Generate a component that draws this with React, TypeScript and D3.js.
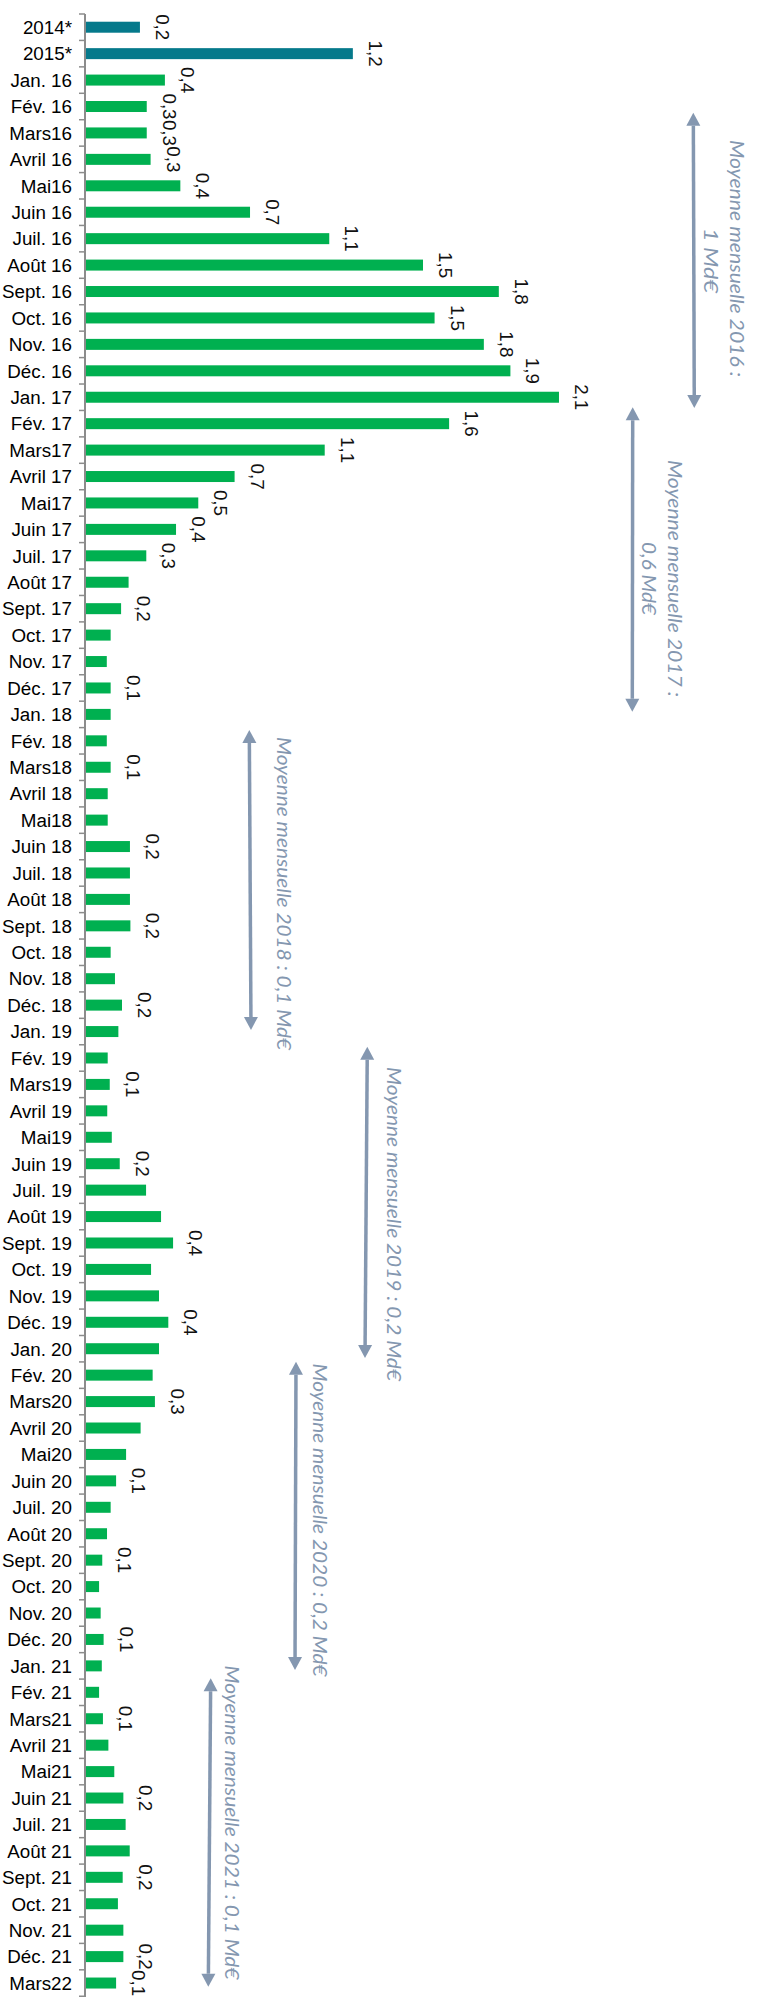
import React from "react";
import * as d3 from "d3";

const categories = [
  "2014*", "2015*",
  "Jan. 16", "Fév. 16", "Mars16", "Avril 16", "Mai16", "Juin 16", "Juil. 16", "Août 16", "Sept. 16", "Oct. 16", "Nov. 16", "Déc. 16",
  "Jan. 17", "Fév. 17", "Mars17", "Avril 17", "Mai17", "Juin 17", "Juil. 17", "Août 17", "Sept. 17", "Oct. 17", "Nov. 17", "Déc. 17",
  "Jan. 18", "Fév. 18", "Mars18", "Avril 18", "Mai18", "Juin 18", "Juil. 18", "Août 18", "Sept. 18", "Oct. 18", "Nov. 18", "Déc. 18",
  "Jan. 19", "Fév. 19", "Mars19", "Avril 19", "Mai19", "Juin 19", "Juil. 19", "Août 19", "Sept. 19", "Oct. 19", "Nov. 19", "Déc. 19",
  "Jan. 20", "Fév. 20", "Mars20", "Avril 20", "Mai20", "Juin 20", "Juil. 20", "Août 20", "Sept. 20", "Oct. 20", "Nov. 20", "Déc. 20",
  "Jan. 21", "Fév. 21", "Mars21", "Avril 21", "Mai21", "Juin 21", "Juil. 21", "Août 21", "Sept. 21", "Oct. 21", "Nov. 21", "Déc. 21",
  "Mars22",
];

const values = [
  0.242, 1.18,
  0.352, 0.272, 0.272, 0.289, 0.42, 0.727, 1.076, 1.489, 1.823, 1.54, 1.757, 1.874,
  2.088, 1.604, 1.056, 0.659, 0.499, 0.401, 0.27, 0.192, 0.159, 0.113, 0.096, 0.113,
  0.113, 0.096, 0.113, 0.1, 0.1, 0.198, 0.198, 0.198, 0.2, 0.113, 0.132, 0.163,
  0.147, 0.1, 0.109, 0.098, 0.118, 0.153, 0.269, 0.335, 0.388, 0.291, 0.326, 0.367,
  0.326, 0.298, 0.308, 0.245, 0.181, 0.137, 0.113, 0.097, 0.076, 0.062, 0.069, 0.082,
  0.074, 0.062, 0.079, 0.103, 0.129, 0.169, 0.179, 0.197, 0.166, 0.145, 0.169, 0.169,
  0.137,
];

const annualCategories = ["2014*", "2015*"];

const labeledCategories = [
  "2014*", "2015*",
  "Jan. 16", "Fév. 16", "Mars16", "Avril 16", "Mai16", "Juin 16", "Juil. 16", "Août 16", "Sept. 16", "Oct. 16", "Nov. 16", "Déc. 16",
  "Jan. 17", "Fév. 17", "Mars17", "Avril 17", "Mai17", "Juin 17", "Juil. 17", "Sept. 17", "Déc. 17",
  "Mars18", "Juin 18", "Sept. 18", "Déc. 18",
  "Mars19", "Juin 19", "Sept. 19", "Déc. 19",
  "Mars20", "Juin 20", "Sept. 20", "Déc. 20",
  "Mars21", "Juin 21", "Sept. 21", "Déc. 21",
  "Mars22",
];

const annotationLines = [
  ["Moyenne mensuelle 2016 :", "1 Md€"],
  ["Moyenne mensuelle 2017 :", "0,6 Md€"],
  ["Moyenne mensuelle 2018 : 0,1 Md€"],
  ["Moyenne mensuelle 2019 : 0,2 Md€"],
  ["Moyenne mensuelle 2020 : 0,2 Md€"],
  ["Moyenne mensuelle 2021 : 0,1 Md€"],
];

// layout of the annotation arrows/texts (pixels)
const annotationLayout = [
  { xTop: 693.3, xBot: 694.3, yTop: 112.7, yBot: 408, textX: [730, 703.5], textY: [140, 228], textLen: [237, 65] },
  { xTop: 632.7, xBot: 632.3, yTop: 407.3, yBot: 711.7, textX: [668.3, 642], textY: [460, 542], textLen: [237, 73] },
  { xTop: 249.3, xBot: 251, yTop: 730, yBot: 1030, textX: [276.7], textY: [737], textLen: [313] },
  { xTop: 367.3, xBot: 365, yTop: 1046.7, yBot: 1358, textX: [386.7], textY: [1067], textLen: [314] },
  { xTop: 296, xBot: 295, yTop: 1361.7, yBot: 1670, textX: [313.3], textY: [1363.5], textLen: [313] },
  { xTop: 210.7, xBot: 208.3, yTop: 1678.3, yBot: 1986.7, textX: [225], textY: [1665.5], textLen: [314] },
];

const W = 758;
const H = 1997;
const AXIS_X = 85;
const TOP = 14;
const STEP = 26.43;
const PX_PER_UNIT = 227;

const ANNOT = "#8497B0";

function Arrow({ a }: { a: any }) {
  const head = 13;
  const half = 7;
  const dx = a.xBot - a.xTop;
  const dy = a.yBot - a.yTop;
  const len = Math.sqrt(dx * dx + dy * dy);
  const ux = dx / len;
  const uy = dy / len;
  const px = -uy;
  const py = ux;
  const topBase = [a.xTop + ux * head, a.yTop + uy * head];
  const botBase = [a.xBot - ux * head, a.yBot - uy * head];
  const tri = (tip: number[], base: number[]) =>
    `M${tip[0]},${tip[1]}L${base[0] + px * half},${base[1] + py * half}L${base[0] - px * half},${base[1] - py * half}Z`;
  return (
    <g>
      <line x1={topBase[0]} y1={topBase[1]} x2={botBase[0]} y2={botBase[1]} stroke={ANNOT} strokeWidth={3.5} />
      <path d={tri([a.xTop, a.yTop], topBase)} fill={ANNOT} />
      <path d={tri([a.xBot, a.yBot], botBase)} fill={ANNOT} />
    </g>
  );
}

export default function App() {
  const y = d3
    .scaleBand<string>()
    .domain(categories)
    .range([TOP, TOP + STEP * categories.length])
    .paddingInner(0.584)
    .paddingOuter(0.292);

  const x = d3
    .scaleLinear()
    .domain([0, 2.2])
    .range([AXIS_X, AXIS_X + 2.2 * PX_PER_UNIT]);

  const fmt = (v: number) => d3.format(".1f")(v).replace(".", ",");
  const bw = y.bandwidth();
  const tickYs = d3.range(categories.length + 1).map((i) => TOP + i * y.step());

  return (
    <svg
      width={W}
      height={H}
      viewBox={`0 0 ${W} ${H}`}
      style={{ position: "absolute", left: 0, top: 0, background: "#fff" }}
    >
      <rect x={0} y={0} width={W} height={H} fill="#fff" />
      {/* bars */}
      {categories.map((c, i) => (
        <rect
          key={c}
          x={x(0)}
          y={(y(c) as number)}
          width={x(values[i]) - x(0)}
          height={bw}
          fill={annualCategories.includes(c) ? "#05798B" : "#00B050"}
        />
      ))}
      {/* axis */}
      <line x1={AXIS_X} y1={TOP} x2={AXIS_X} y2={H} stroke="#8c8c8c" strokeWidth={2} />
      {tickYs.map((t, i) => (
        <line key={i} x1={AXIS_X - 6} x2={AXIS_X} y1={t} y2={t} stroke="#8c8c8c" strokeWidth={1.5} />
      ))}
      {/* category labels */}
      {categories.map((c) => (
        <text
          key={c}
          x={72}
          y={(y(c) as number) + bw / 2 + 6.8}
          textAnchor="end"
          fontFamily="'Liberation Sans', Arial, sans-serif"
          fontSize={18.8}
          fill="#000"
        >
          {c}
        </text>
      ))}
      {/* value labels */}
      {categories.map((c, i) =>
        labeledCategories.includes(c) ? (
          <text
            key={c}
            transform={`translate(${x(values[i]) + 16},${(y(c) as number) + bw / 2}) rotate(90)`}
            textAnchor="middle"
            fontFamily="'Liberation Sans', Arial, sans-serif"
            fontSize={18.8}
            fill="#111"
          >
            {fmt(values[i])}
          </text>
        ) : null
      )}
      {/* annotations */}
      {annotationLayout.map((a, k) => (
        <g key={k}>
          <Arrow a={a} />
          {annotationLines[k].map((line, j) => (
            <text
              key={j}
              transform={`translate(${a.textX[j]},${a.textY[j]}) rotate(90)`}
              textAnchor="start"
              fontFamily="Lato, 'Open Sans', sans-serif"
              fontStyle="italic"
              fontSize={19}
              fill={ANNOT}
              textLength={a.textLen[j]}
              lengthAdjust="spacingAndGlyphs"
            >
              {line}
            </text>
          ))}
        </g>
      ))}
    </svg>
  );
}
